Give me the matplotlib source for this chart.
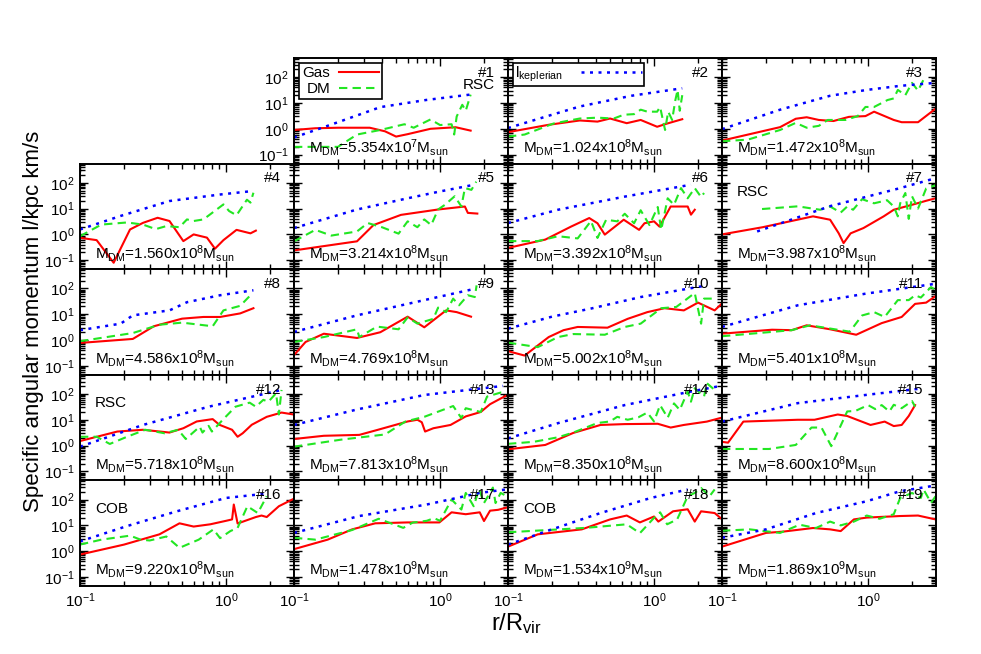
import matplotlib
matplotlib.use("Agg")
import matplotlib.pyplot as plt
from matplotlib.ticker import LogLocator, NullFormatter, LogFormatterSciNotation

plt.rcParams['font.family'] = ['Liberation Sans', 'DejaVu Sans']
plt.rcParams['mathtext.default'] = 'regular'

# halo masses (M_DM = mantissa x 10^exp M_sun), one per panel #1..#19
mass_mant = ['5.354', '1.024', '1.472', '1.560', '3.214', '3.392', '3.987', '4.586', '4.769', '5.002',
             '5.401', '5.718', '7.813', '8.350', '8.600', '9.220', '1.478', '1.534', '1.869']
mass_exp = [7, 8, 8, 8, 8, 8, 8, 8, 8, 8, 8, 8, 8, 8, 8, 8, 9, 9, 9]
# extra labels: panel number -> (text, placed under "#N" on right or top-left)
tags = {1: ('RSC', 'right'), 7: ('RSC', 'left'), 12: ('RSC', 'left'), 16: ('COB', 'left'), 18: ('COB', 'left')}

# (r/Rvir, l) points, one list per panel
kep = [
    [(0.1, 0.46), (0.2, 1.8), (0.39, 6.9), (0.8, 13), (1.6, 21)],
    [(0.1, 1.07), (0.2, 3.5), (0.31, 7.3), (0.7, 19), (1.56, 37)],
    [(0.1, 0.97), (0.25, 5.5), (0.55, 19), (0.98, 32), (1.66, 46), (2.9, 60)],
    [(0.1, 1.55), (0.19, 5.2), (0.41, 19.6), (0.91, 35), (1.54, 48)],
    [(0.1, 1.76), (0.27, 9.2), (0.6, 25), (1.0, 46), (1.72, 84)],
    [(0.1, 2.75), (0.22, 9), (0.63, 29), (1.79, 84)],
    [(0.174, 1.3), (0.55, 12.4), (1.66, 62), (2.9, 150)],
    [(0.1, 2.4), (0.19, 4.3), (0.23, 9), (0.41, 14), (0.54, 29), (0.91, 54), (1.54, 84)],
    [(0.1, 2.05), (0.27, 9), (0.78, 35), (1.63, 89)],
    [(0.1, 2.75), (0.2, 8), (0.37, 16.5), (0.81, 46), (2.3, 130)],
    [(0.1, 3.2), (0.33, 22), (0.96, 62), (2.9, 150)],
    [(0.1, 0.91), (0.27, 6.3), (0.76, 32), (2.4, 143)],
    [(0.1, 6.3), (0.27, 25), (0.78, 91), (2.7, 204)],
    [(0.1, 1.9), (0.22, 7.4), (0.63, 37), (1.79, 124), (2.8, 200)],
    [(0.1, 8.5), (0.33, 44), (0.96, 91), (2.2, 157)],
    [(0.1, 2.4), (0.21, 9.4), (0.46, 35), (1.0, 115), (1.9, 170)],
    [(0.1, 5.1), (0.28, 23), (0.81, 64), (1.87, 180), (2.9, 250)],
    [(0.1, 1.8), (0.2, 7), (0.43, 30), (0.95, 115), (1.7, 245)],
    [(0.1, 3.3), (0.2, 7), (0.44, 30), (0.98, 86), (1.66, 210), (2.9, 350)],
]
gas = [
    [(0.1, 0.9), (0.14, 1.05), (0.2, 1.1), (0.33, 1.1), (0.42, 0.8), (0.5, 0.5), (0.6, 0.62), (0.86, 1.0), (1.28, 1.15), (1.62, 0.85)],
    [(0.1, 0.74), (0.19, 1.43), (0.31, 2.1), (0.41, 1.9), (0.5, 2.5), (0.65, 1.65), (0.81, 2.2), (1.05, 1.2), (1.23, 1.6), (1.56, 2.35)],
    [(0.1, 0.35), (0.25, 1.16), (0.32, 2.45), (0.38, 2.8), (0.46, 2.2), (0.58, 2.0), (0.74, 2.9), (0.96, 3.1), (1.1, 4.6), (1.5, 2.2), (1.7, 1.8), (2.2, 1.8), (2.9, 6)],
    [(0.1, 0.74), (0.13, 0.6), (0.17, 0.08), (0.22, 1.55), (0.27, 2.8), (0.34, 4.4), (0.41, 3.3), (0.51, 0.55), (0.6, 1.0), (0.74, 0.75), (0.84, 0.28), (0.96, 0.6), (1.18, 1.5), (1.47, 1.1), (1.6, 1.4)],
    [(0.1, 0.24), (0.27, 0.54), (0.35, 2.3), (0.54, 5.7), (0.97, 9.2), (1.48, 12), (1.55, 6.8), (1.8, 6.4)],
    [(0.1, 0.3), (0.18, 0.63), (0.27, 2.0), (0.36, 4.3), (0.41, 2.7), (0.46, 0.98), (0.54, 2.0), (0.62, 3.7), (0.79, 1.5), (0.86, 2.7), (1.0, 3.2), (1.09, 2.0), (1.3, 12), (1.7, 12), (1.79, 5.8), (1.9, 9)],
    [(0.1, 1.0), (0.19, 1.9), (0.42, 5), (0.55, 3.7), (0.63, 1.1), (0.68, 0.46), (0.76, 1.1), (0.93, 1.76), (1.28, 5), (1.5, 9), (2.0, 14), (2.5, 20), (2.9, 25)],
    [(0.1, 0.77), (0.23, 1.1), (0.32, 3.4), (0.5, 6.7), (0.7, 7.8), (0.91, 7.8), (1.25, 10.7), (1.54, 17)],
    [(0.1, 0.26), (0.12, 0.84), (0.16, 1.75), (0.27, 1.2), (0.39, 2.0), (0.6, 8), (0.78, 3.1), (1.1, 14), (1.3, 12), (1.63, 8)],
    [(0.1, 0.37), (0.13, 0.25), (0.19, 1.3), (0.24, 2.4), (0.3, 3.2), (0.48, 3.0), (0.66, 6.6), (0.9, 12), (1.18, 17), (1.6, 14), (2.0, 28), (2.6, 14), (2.9, 25)],
    [(0.1, 1.76), (0.22, 2.5), (0.3, 2.4), (0.38, 3.7), (0.55, 2.6), (0.83, 1.6), (1.24, 4.5), (1.7, 7.8), (2.1, 25), (2.5, 28), (2.9, 50)],
    [(0.1, 1.5), (0.18, 3.5), (0.27, 4.1), (0.41, 3.2), (0.51, 4.7), (0.63, 8.6), (0.81, 10.6), (0.9, 6.4), (1.1, 4.1), (1.2, 2.2), (1.3, 3.0), (1.5, 6.4), (1.9, 13), (2.4, 19), (2.9, 16)],
    [(0.1, 1.8), (0.16, 2.4), (0.28, 2.6), (0.37, 4), (0.6, 8.6), (0.7, 10), (0.75, 8), (0.79, 3.5), (0.9, 4.7), (1.18, 6.3), (1.5, 13.5), (1.9, 20), (2.2, 40), (2.8, 83)],
    [(0.1, 0.72), (0.18, 1.06), (0.28, 3.1), (0.43, 6.3), (0.63, 6.8), (1.06, 7), (1.3, 5), (1.6, 6.3), (2.3, 8.5), (2.9, 12)],
    [(0.1, 1.4), (0.11, 1.3), (0.14, 8.5), (0.33, 10), (0.43, 10), (0.62, 16), (0.72, 14), (0.84, 10), (1.04, 6.3), (1.3, 8.5), (1.5, 5.7), (1.7, 6.3), (1.9, 14), (2.1, 37)],
    [(0.1, 0.74), (0.2, 1.8), (0.35, 4.5), (0.48, 12), (0.6, 9), (0.78, 11), (1.0, 15), (1.1, 17), (1.13, 64), (1.2, 11.8), (1.6, 21), (1.75, 24), (1.9, 21), (2.3, 55), (2.9, 106)],
    [(0.1, 1.2), (0.17, 2.8), (0.25, 7), (0.36, 12), (0.6, 13), (0.99, 13), (1.2, 32), (1.5, 27), (1.87, 32), (2.0, 14.7), (2.2, 37), (2.5, 40), (2.9, 50)],
    [(0.1, 1.5), (0.16, 4.5), (0.32, 7), (0.5, 17), (0.65, 24), (0.8, 13), (1.0, 22), (1.07, 14), (1.35, 35), (1.7, 42), (1.9, 14), (2.1, 35), (2.6, 30), (2.9, 18)],
    [(0.1, 1.5), (0.2, 5.1), (0.26, 5.7), (0.42, 7.9), (0.55, 7), (0.65, 6), (0.8, 17), (0.98, 20), (1.66, 23), (2.2, 24), (2.9, 17)],
]
dm = [
    [(0.1, 0.2), (0.2, 0.2), (0.27, 0.6), (0.39, 0.9), (0.57, 1.5), (0.66, 1.1), (0.86, 2.3), (1.0, 1.4), (1.2, 1.5), (1.25, 0.6), (1.3, 3), (1.42, 8.5), (1.5, 5), (1.62, 21)],
    [(0.1, 0.5), (0.13, 0.6), (0.205, 1.6), (0.31, 2.5), (0.41, 2.7), (0.53, 2.5), (0.62, 3.5), (0.73, 3.7), (0.81, 5.5), (0.9, 4.6), (1.05, 4.6), (1.1, 7), (1.19, 0.9), (1.25, 4.6), (1.33, 2.2), (1.4, 13), (1.45, 32), (1.5, 5), (1.56, 20)],
    [(0.1, 0.33), (0.15, 0.38), (0.25, 0.9), (0.32, 1.7), (0.38, 1.1), (0.46, 1.3), (0.53, 2.2), (0.7, 2.2), (0.85, 3.1), (0.96, 7), (1.1, 7), (1.36, 13), (1.5, 15), (1.6, 32), (1.8, 20), (2.0, 60), (2.2, 30), (2.4, 80)],
    [(0.1, 0.85), (0.14, 2.4), (0.21, 2.9), (0.27, 2.4), (0.33, 1.6), (0.39, 2.1), (0.48, 1.9), (0.54, 3.8), (0.6, 3.3), (0.7, 3.8), (0.96, 14.5), (1.05, 8), (1.18, 5.5), (1.3, 12.5), (1.39, 22), (1.47, 17), (1.54, 41)],
    [(0.1, 0.54), (0.14, 1.5), (0.18, 0.9), (0.27, 1.3), (0.32, 2.75), (0.40, 1.9), (0.52, 1.07), (0.6, 3.2), (0.7, 1.9), (0.78, 3.8), (0.87, 2.3), (0.97, 9.2), (1.08, 14), (1.26, 30), (1.40, 12), (1.48, 62), (1.64, 53), (1.77, 110)],
    [(0.1, 0.55), (0.16, 0.55), (0.22, 0.85), (0.3, 0.7), (0.37, 3.3), (0.41, 0.73), (0.47, 3.7), (0.56, 3.2), (0.63, 6.3), (0.73, 2.7), (0.81, 8.6), (0.93, 2.3), (1.06, 11.5), (1.12, 1.5), (1.24, 25), (1.37, 14), (1.53, 62), (1.7, 25), (1.9, 62), (2.1, 28), (2.2, 40)],
    [(0.188, 9.6), (0.33, 12.2), (0.47, 9), (0.55, 12), (0.65, 7), (0.72, 12), (0.79, 9), (0.91, 23), (1.1, 16), (1.35, 21), (1.5, 12), (1.6, 5), (1.66, 16), (1.8, 40), (1.9, 4), (2.0, 30), (2.2, 10), (2.5, 60), (2.9, 80)],
    [(0.1, 0.9), (0.23, 1.86), (0.35, 3.9), (0.5, 4.7), (0.81, 3.4), (0.96, 14), (1.25, 21), (1.47, 54)],
    [(0.1, 0.84), (0.16, 1.3), (0.27, 2.6), (0.28, 1.3), (0.37, 3.3), (0.52, 2.6), (0.6, 7.5), (0.7, 4.3), (0.9, 6.6), (0.97, 18), (1.1, 12), (1.23, 40), (1.35, 22), (1.55, 54), (1.73, 46), (1.78, 130)],
    [(0.1, 0.79), (0.16, 0.53), (0.22, 1.3), (0.28, 1.7), (0.46, 1.6), (0.63, 3.2), (0.81, 4.3), (1.12, 17), (1.42, 19), (1.9, 66), (2.1, 4.3), (2.2, 40), (2.5, 40)],
    [(0.1, 1.4), (0.3, 2.4), (0.4, 3.7), (0.75, 2.1), (0.91, 8.9), (1.1, 12), (1.3, 7.8), (1.6, 35), (1.9, 35), (2.1, 54), (2.3, 44), (2.7, 112), (2.9, 84)],
    [(0.1, 2.2), (0.13, 2.2), (0.16, 1.16), (0.21, 2.2), (0.28, 4.1), (0.38, 3.0), (0.47, 4.1), (0.53, 1.8), (0.66, 5.4), (0.69, 3.2), (0.76, 5.8), (0.8, 3.5), (0.95, 10), (1.16, 32), (1.45, 46), (1.6, 32), (1.8, 59), (1.95, 50), (2.2, 106), (2.3, 16), (2.4, 143)],
    [(0.1, 0.91), (0.21, 1.7), (0.42, 2.7), (0.58, 8.6), (0.78, 13), (1.23, 34), (1.4, 11.6), (1.5, 28), (1.9, 20), (2.1, 79), (2.6, 113), (2.8, 106)],
    [(0.1, 1.17), (0.15, 1.4), (0.22, 2.1), (0.28, 3.2), (0.41, 7.5), (0.5, 8.6), (0.56, 13), (0.66, 10), (0.78, 12.4), (0.9, 19), (1.0, 8.6), (1.1, 37), (1.24, 12), (1.37, 43), (1.5, 24), (1.7, 124), (1.79, 50), (1.9, 165), (2.2, 79), (2.3, 260), (2.6, 143)],
    [(0.1, 0.74), (0.21, 0.74), (0.32, 1.06), (0.41, 5), (0.48, 5), (0.56, 0.95), (0.72, 21), (0.82, 22), (1.0, 37), (1.12, 26), (1.24, 37), (1.4, 21), (1.5, 38), (1.7, 28), (2.0, 53), (2.1, 32)],
    [(0.1, 1.8), (0.14, 2.8), (0.22, 4.0), (0.26, 2.8), (0.3, 2.6), (0.39, 3.7), (0.48, 1.35), (0.65, 2.8), (0.82, 7), (0.91, 3.2), (1.07, 6), (1.2, 8), (1.4, 55), (1.65, 30), (1.9, 134)],
    [(0.1, 3.3), (0.14, 2.8), (0.25, 6.6), (0.38, 18), (0.48, 11), (0.56, 8), (0.65, 12.8), (0.81, 15), (0.91, 19), (1.0, 15), (1.2, 100), (1.4, 41), (1.5, 180), (1.7, 55), (1.85, 250), (2.0, 73), (2.3, 290), (2.4, 73), (2.6, 180), (2.9, 130)],
    [(0.1, 5.4), (0.34, 8), (0.65, 11), (0.8, 5), (1.0, 19.5), (1.1, 32), (1.23, 11), (1.44, 17), (1.7, 134), (1.9, 180), (2.1, 280), (2.4, 134), (2.6, 245)],
    [(0.1, 6.2), (0.155, 7), (0.25, 5.1), (0.34, 10.6), (0.44, 7.9), (0.55, 14), (0.65, 10), (0.8, 14), (0.98, 24), (1.2, 18), (1.5, 27), (1.66, 115), (2.0, 180), (2.3, 115), (2.4, 245), (2.7, 75), (2.9, 134)],
]

RED = '#ff0000'
GREEN = '#22e622'
BLUE = '#0000ff'

fig = plt.figure(figsize=(9.81, 6.54), dpi=100)
gs = fig.add_gridspec(5, 4, left=80/981, right=936/981, top=1-58/654, bottom=1-586/654,
                      hspace=0, wspace=0)

for i in range(19):
    p = i + 1
    row, col = divmod(p, 4)
    ax = fig.add_subplot(gs[row, col])

    r, l = zip(*gas[i])
    ax.plot(r, l, color=RED, lw=1.5, label='Gas')
    r, l = zip(*dm[i])
    ax.plot(r, l, color=GREEN, lw=1.5, ls=(0, (4, 2.5)), label='DM')
    r, l = zip(*kep[i])
    ax.plot(r, l, color=BLUE, lw=1.8, ls=(0, (1.2, 2.2)), label='l$_{keplerian}$')

    ax.set_xscale('log')
    ax.set_yscale('log')
    ax.set_xlim(0.1, 2.92)
    ax.set_ylim(0.045, 550)
    ax.yaxis.set_major_locator(LogLocator(base=10, numticks=10))
    ax.yaxis.set_minor_locator(LogLocator(base=10, subs=range(2, 10), numticks=10))
    ax.xaxis.set_minor_formatter(NullFormatter())
    ax.yaxis.set_minor_formatter(NullFormatter())
    ax.xaxis.set_major_formatter(LogFormatterSciNotation())
    ax.yaxis.set_major_formatter(LogFormatterSciNotation())
    ax.tick_params(which='both', direction='in', top=True, right=True, labelsize=11, pad=4)
    ax.tick_params(which='major', length=6, width=1)
    ax.tick_params(which='minor', length=3.5, width=1)
    for s in ax.spines.values():
        s.set_linewidth(1.4)

    if row != 4:
        ax.tick_params(labelbottom=False)
    if not (col == 0 or (row == 0 and col == 1)):
        ax.tick_params(labelleft=False)

    ax.text(0.94, 0.86, f'#{p}', transform=ax.transAxes, ha='right', va='center', fontsize=11)
    ax.text(0.07, 0.105, f'M$_{{DM}}$={mass_mant[i]}x10$^{{{mass_exp[i]}}}$M$_{{sun}}$',
            transform=ax.transAxes, ha='left', va='baseline', fontsize=11)
    if p in tags:
        txt, where = tags[p]
        if where == 'right':
            ax.text(0.94, 0.74, txt, transform=ax.transAxes, ha='right', va='center', fontsize=11)
        else:
            ax.text(0.07, 0.73, txt, transform=ax.transAxes, ha='left', va='center', fontsize=11)

    if p == 1:
        h, lab = ax.get_legend_handles_labels()
        leg = ax.legend(h[:2], lab[:2], loc='upper left', markerfirst=False, fontsize=11,
                        fancybox=False, framealpha=1, edgecolor='black', handlelength=2.6,
                        borderaxespad=0.35, borderpad=0.2, labelspacing=0.1, handletextpad=0.6)
        leg.get_frame().set_linewidth(1.2)
    if p == 2:
        h, lab = ax.get_legend_handles_labels()
        leg = ax.legend(h[2:], lab[2:], loc='upper left', markerfirst=False, fontsize=11,
                        fancybox=False, framealpha=1, edgecolor='black', handlelength=4.0,
                        borderaxespad=0.35, borderpad=0.1, handletextpad=1.2)
        leg.get_frame().set_linewidth(1.2)

fig.text(0.034, 0.508, 'Specific angular momentum l/kpc km/s', rotation=90,
         ha='center', va='center', fontsize=16)
fig.text(0.526, 0.037, 'r/R$_{vir}$', ha='center', va='baseline', fontsize=17)

fig.savefig('out.png', dpi=100)
